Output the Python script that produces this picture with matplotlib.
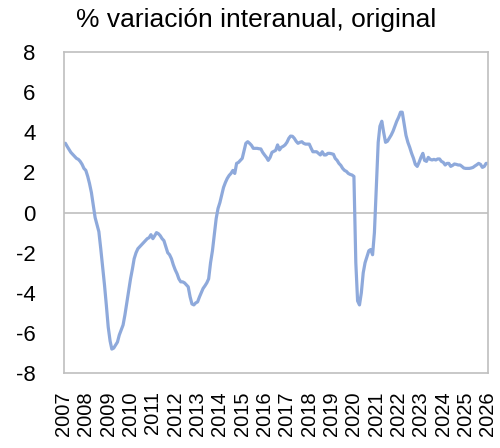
import pandas as pd
import matplotlib.pyplot as plt
import matplotlib.dates as mdates

plt.rcParams['font.family'] = ['Liberation Sans', 'DejaVu Sans']
plt.rcParams['axes.unicode_minus'] = False

# monthly year-on-year change, Jan 2007 - Jan 2026
start = '2007-01-01'
values_2007 = [3.45, 3.45, 3.3, 3.15, 3.0, 2.9, 2.8, 2.7, 2.65, 2.55, 2.4, 2.2]
values_2008 = [2.1, 1.8, 1.45, 1.0, 0.4, -0.25, -0.6, -0.95, -1.8, -2.7, -3.6, -4.6]
values_2009 = [-5.7, -6.4, -6.8, -6.75, -6.6, -6.45, -6.1, -5.85, -5.6, -5.1, -4.5, -3.9]
values_2010 = [-3.3, -2.8, -2.3, -2.0, -1.8, -1.7, -1.6, -1.5, -1.4, -1.3, -1.25, -1.1]
values_2011 = [-1.3, -1.15, -1.0, -1.05, -1.15, -1.3, -1.4, -1.7, -2.0, -2.1, -2.3, -2.6]
values_2012 = [-2.85, -3.05, -3.3, -3.45, -3.45, -3.5, -3.6, -3.7, -4.2, -4.55, -4.6, -4.5]
values_2013 = [-4.45, -4.2, -4.0, -3.78, -3.65, -3.5, -3.3, -2.5, -1.9, -1.1, -0.3, 0.2]
values_2014 = [0.5, 0.9, 1.25, 1.5, 1.7, 1.85, 1.95, 2.1, 1.95, 2.45, 2.5, 2.6]
values_2015 = [2.7, 3.1, 3.45, 3.53, 3.45, 3.35, 3.2, 3.2, 3.2, 3.18, 3.17, 3.0]
values_2016 = [2.87, 2.75, 2.6, 2.75, 3.0, 3.05, 3.1, 3.37, 3.12, 3.25, 3.3, 3.37]
values_2017 = [3.5, 3.7, 3.81, 3.8, 3.7, 3.55, 3.45, 3.5, 3.53, 3.45, 3.41, 3.41]
values_2018 = [3.41, 3.2, 3.03, 3.03, 3.03, 2.95, 2.87, 3.03, 2.87, 2.87, 2.95, 2.95]
values_2019 = [2.93, 2.9, 2.7, 2.6, 2.45, 2.35, 2.2, 2.1, 2.05, 1.95, 1.9, 1.87]
values_2020 = [1.8, -2.5, -4.4, -4.6, -4.0, -3.0, -2.5, -2.2, -1.9, -1.84, -2.1, -1.0]
values_2021 = [1.2, 3.5, 4.3, 4.55, 4.0, 3.5, 3.55, 3.7, 3.86, 4.05, 4.3, 4.55]
values_2022 = [4.75, 5.0, 5.0, 4.4, 3.85, 3.5, 3.25, 2.95, 2.7, 2.4, 2.3, 2.5]
values_2023 = [2.75, 2.95, 2.6, 2.55, 2.75, 2.65, 2.62, 2.65, 2.62, 2.67, 2.67, 2.55]
values_2024 = [2.5, 2.37, 2.45, 2.45, 2.3, 2.35, 2.42, 2.4, 2.37, 2.37, 2.3, 2.22]
values_2025 = [2.2, 2.2, 2.2, 2.22, 2.25, 2.32, 2.38, 2.45, 2.4, 2.25, 2.3, 2.45]
values_2026 = [2.45]

values = (values_2007 + values_2008 + values_2009 + values_2010 + values_2011
          + values_2012 + values_2013 + values_2014 + values_2015 + values_2016
          + values_2017 + values_2018 + values_2019 + values_2020 + values_2021
          + values_2022 + values_2023 + values_2024 + values_2025 + values_2026)
dates = pd.date_range(start, periods=len(values), freq='MS')
yticks = [-8, -6, -4, -2, 0, 2, 4, 6, 8]

fig = plt.figure(figsize=(5, 4.48), dpi=100)
ax = fig.add_axes([0.127, 0.167, 0.849, 0.717])

ax.axhline(0, color='#BFBFBF', linewidth=1.2, zorder=1)
ax.plot(dates, values, color='#8EA9DB', linewidth=2.3, zorder=2)

ax.set_xlim(dates[0], dates[-1])
ax.set_ylim(-8, 8)
ax.set_yticks(yticks)
ax.xaxis.set_major_locator(mdates.YearLocator())
ax.xaxis.set_major_formatter(mdates.DateFormatter('%Y'))
ax.tick_params(axis='y', length=0, pad=20, labelsize=16)
ax.tick_params(axis='x', length=0, pad=13, labelsize=14.5, rotation=90)

for s in ax.spines.values():
    s.set_color('#BFBFBF')
    s.set_linewidth(1.2)

fig.text(0.152, 0.955, '% variación interanual, original', fontsize=19,
         ha='left', va='center')

plt.savefig('out.png', dpi=100)
